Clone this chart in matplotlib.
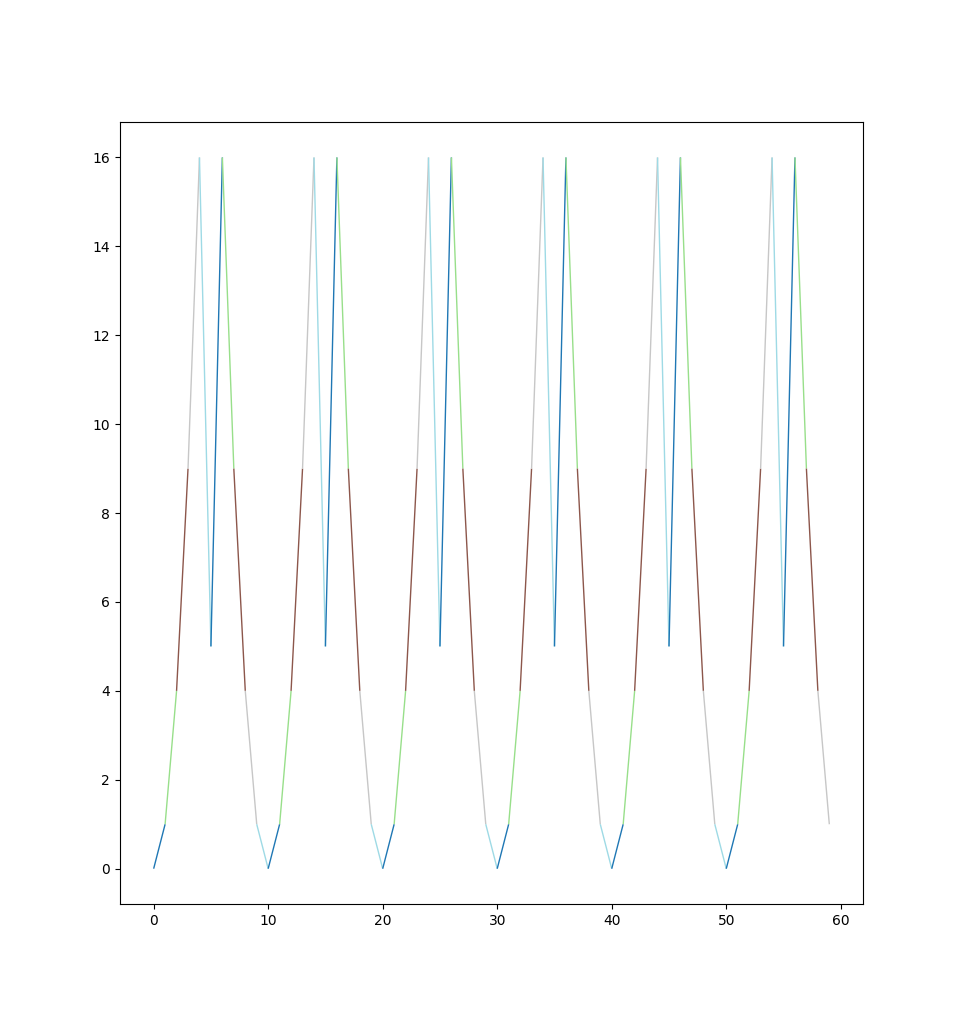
import numpy as np
import matplotlib
matplotlib.use("Agg")
import matplotlib.pyplot as plt
from matplotlib.collections import LineCollection

# une periode du motif, repetee 6 fois
motif = [0, 1, 4, 9, 16, 5, 16, 9, 4, 1]
n_periodes = 6
y = np.array(motif * n_periodes)
x = np.arange(len(y))

# couleurs des segments (tab20), cycle de 5
couleurs = ['#1f77b4', '#98df8a', '#8c564b', '#c7c7c7', '#9edae5']

points = np.column_stack([x, y]).reshape(-1, 1, 2)
segments = np.concatenate([points[:-1], points[1:]], axis=1)
seg_colors = [couleurs[i % len(couleurs)] for i in range(len(segments))]

fig, ax = plt.subplots(figsize=(9.59, 10.16), dpi=100)
lc = LineCollection(segments, colors=seg_colors, linewidths=1)
ax.add_collection(lc)
ax.autoscale_view()
fig.savefig("out.png")
